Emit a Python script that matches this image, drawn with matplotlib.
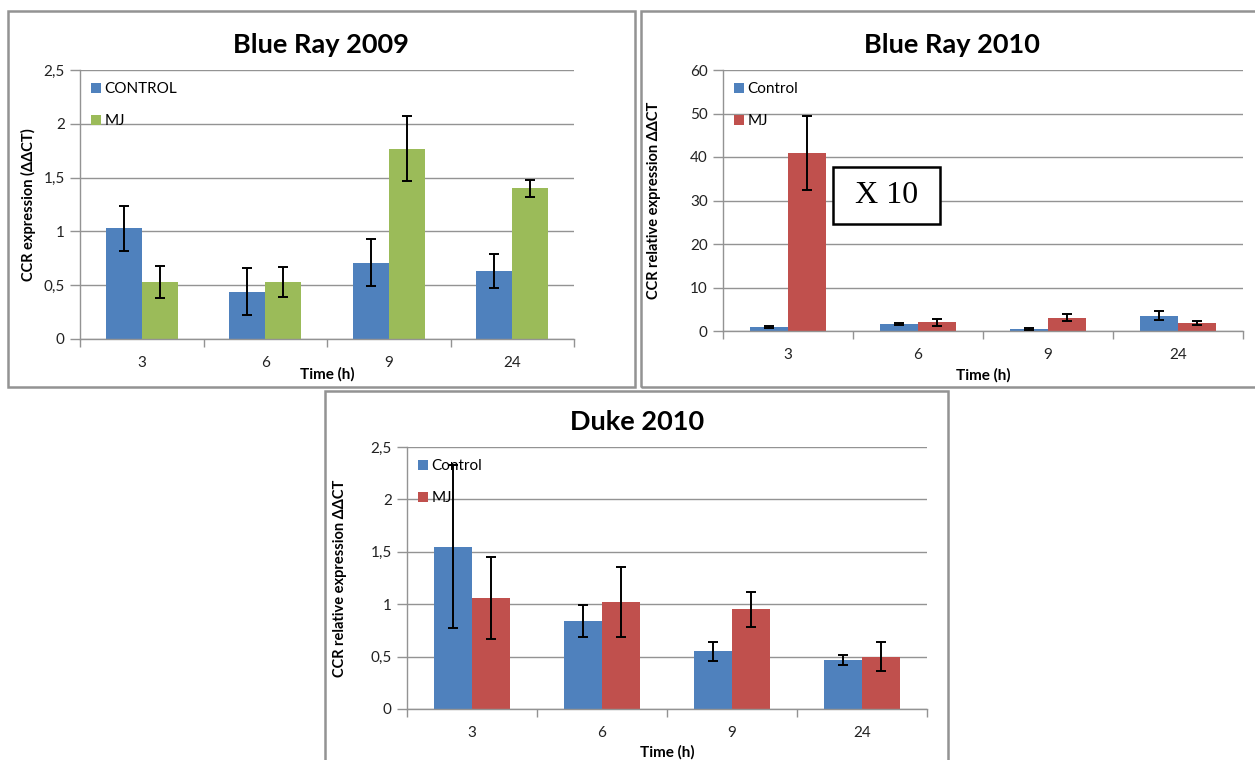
import numpy as np
import matplotlib
matplotlib.use("Agg")
from matplotlib import pyplot as plt
from matplotlib.patches import Rectangle
from matplotlib.ticker import FixedLocator, FuncFormatter

plt.rcParams['font.family'] = ['Lato', 'DejaVu Sans']

W, H = 1255, 760

times = ["3", "6", "9", "24"]

# Blue Ray 2009
br09_control = [1.03, 0.44, 0.71, 0.63]
br09_control_err = [0.21, 0.22, 0.215, 0.16]
br09_mj = [0.53, 0.53, 1.77, 1.40]
br09_mj_err = [0.15, 0.14, 0.30, 0.08]

# Blue Ray 2010
br10_control = [1.0, 1.6, 0.5, 3.5]
br10_control_err = [0.2, 0.3, 0.2, 1.0]
br10_mj = [41.0, 2.0, 3.0, 1.8]
br10_mj_err = [8.5, 0.8, 0.8, 0.4]

# Duke 2010
duke_control = [1.55, 0.84, 0.55, 0.47]
duke_control_err = [0.78, 0.155, 0.09, 0.05]
duke_mj = [1.06, 1.02, 0.95, 0.50]
duke_mj_err = [0.39, 0.335, 0.165, 0.135]

BLUE = '#4F81BD'
GREEN = '#9BBB59'
RED = '#C0504D'
GRID = '#939393'


def px_axes(fig, left, right, top, bottom):
    return fig.add_axes([left / W, 1 - bottom / H, (right - left) / W, (bottom - top) / H])


def comma_fmt(v, pos):
    return ('%g' % v).replace('.', ',')


def draw_panel(ax, ctrl, ctrl_err, mj, mj_err, labels, colors, ymax, ystep, comma):
    x = np.arange(len(times))
    w = 0.29
    ax.bar(x - w / 2, ctrl, w, color=colors[0], label=labels[0], zorder=2)
    ax.bar(x + w / 2, mj, w, color=colors[1], label=labels[1], zorder=2)
    ax.errorbar(x - w / 2, ctrl, yerr=ctrl_err, fmt='none', ecolor='black',
                elinewidth=1.4, capsize=3.5, capthick=1.4, zorder=3)
    ax.errorbar(x + w / 2, mj, yerr=mj_err, fmt='none', ecolor='black',
                elinewidth=1.4, capsize=3.5, capthick=1.4, zorder=3)
    ax.set_xlim(-0.5, len(times) - 0.5)
    ax.set_ylim(0, ymax)
    ax.set_yticks(np.arange(0, ymax + ystep / 2, ystep))
    if comma:
        ax.yaxis.set_major_formatter(FuncFormatter(comma_fmt))
    ax.yaxis.grid(True, color=GRID, linewidth=1)
    ax.set_axisbelow(True)
    ax.xaxis.set_major_locator(FixedLocator(np.arange(-0.5, len(times), 1.0)))
    ax.xaxis.set_minor_locator(FixedLocator(x))
    ax.set_xticklabels([])
    ax.set_xticklabels(times, minor=True)
    ax.tick_params(axis='x', which='major', length=6, color=GRID, width=1)
    ax.tick_params(axis='x', which='minor', length=0, pad=12, labelsize=11, labelcolor='#222')
    ax.tick_params(axis='y', length=7, color=GRID, width=1, pad=4, labelsize=11, labelcolor='#222')
    for s in ['top', 'right']:
        ax.spines[s].set_visible(False)
    for s in ['left', 'bottom']:
        ax.spines[s].set_color(GRID)
        ax.spines[s].set_linewidth(1)
    ax.legend(loc='upper left', bbox_to_anchor=(0.0, 0.995), frameon=False,
              handlelength=0.65, handleheight=0.65, handletextpad=0.25,
              labelspacing=1.2, fontsize=11, borderaxespad=0.3)


def frame(fig, left, top, right, bottom):
    fig.patches.append(Rectangle((left / W, 1 - bottom / H), (right - left) / W, (bottom - top) / H,
                                 transform=fig.transFigure, fill=False, edgecolor=GRID, linewidth=1.8))


def ftext(fig, x, y, s, **kw):
    fig.text(x / W, 1 - y / H, s, ha='center', va='center', **kw)


fig = plt.figure(figsize=(W / 100, H / 100), dpi=100)

frame(fig, 8, 11, 635, 387)
frame(fig, 641, 11, 1262, 387)
frame(fig, 325, 391, 948, 770)

ax1 = px_axes(fig, 80, 574, 70, 339)
draw_panel(ax1, br09_control, br09_control_err, br09_mj, br09_mj_err,
           ["CONTROL", "MJ"], [BLUE, GREEN], 2.5, 0.5, True)
ftext(fig, 321, 45, "Blue Ray 2009", fontsize=19.5, fontweight='bold')
ftext(fig, 327, 374, "Time (h)", fontsize=11, fontweight='bold')
ftext(fig, 28, 205, "CCR expression (ΔΔCT)", fontsize=10.5, fontweight='bold', rotation=90)

ax2 = px_axes(fig, 723, 1243, 70, 331)
draw_panel(ax2, br10_control, br10_control_err, br10_mj, br10_mj_err,
           ["Control", "MJ"], [BLUE, RED], 60, 10, False)
ftext(fig, 952, 45, "Blue Ray 2010", fontsize=19.5, fontweight='bold')
ftext(fig, 983, 375, "Time (h)", fontsize=11, fontweight='bold')
ftext(fig, 654, 200, "CCR relative expression ΔΔCT", fontsize=10.5, fontweight='bold', rotation=90)
ax2.add_patch(Rectangle((0.346, 24.6), 0.823, 13.1, facecolor='white', edgecolor='black',
                        linewidth=1.8, zorder=4))
ax2.text(0.757, 31.2, "X 10", ha='center', va='center', fontsize=23,
         family='Liberation Serif', zorder=5)

ax3 = px_axes(fig, 407, 927, 447, 709)
draw_panel(ax3, duke_control, duke_control_err, duke_mj, duke_mj_err,
           ["Control", "MJ"], [BLUE, RED], 2.5, 0.5, True)
ftext(fig, 637, 422, "Duke 2010", fontsize=19.5, fontweight='bold')
ftext(fig, 667, 752, "Time (h)", fontsize=11, fontweight='bold')
ftext(fig, 340, 578, "CCR relative expression ΔΔCT", fontsize=10.5, fontweight='bold', rotation=90)

fig.savefig("out.png", dpi=100, facecolor='white')
